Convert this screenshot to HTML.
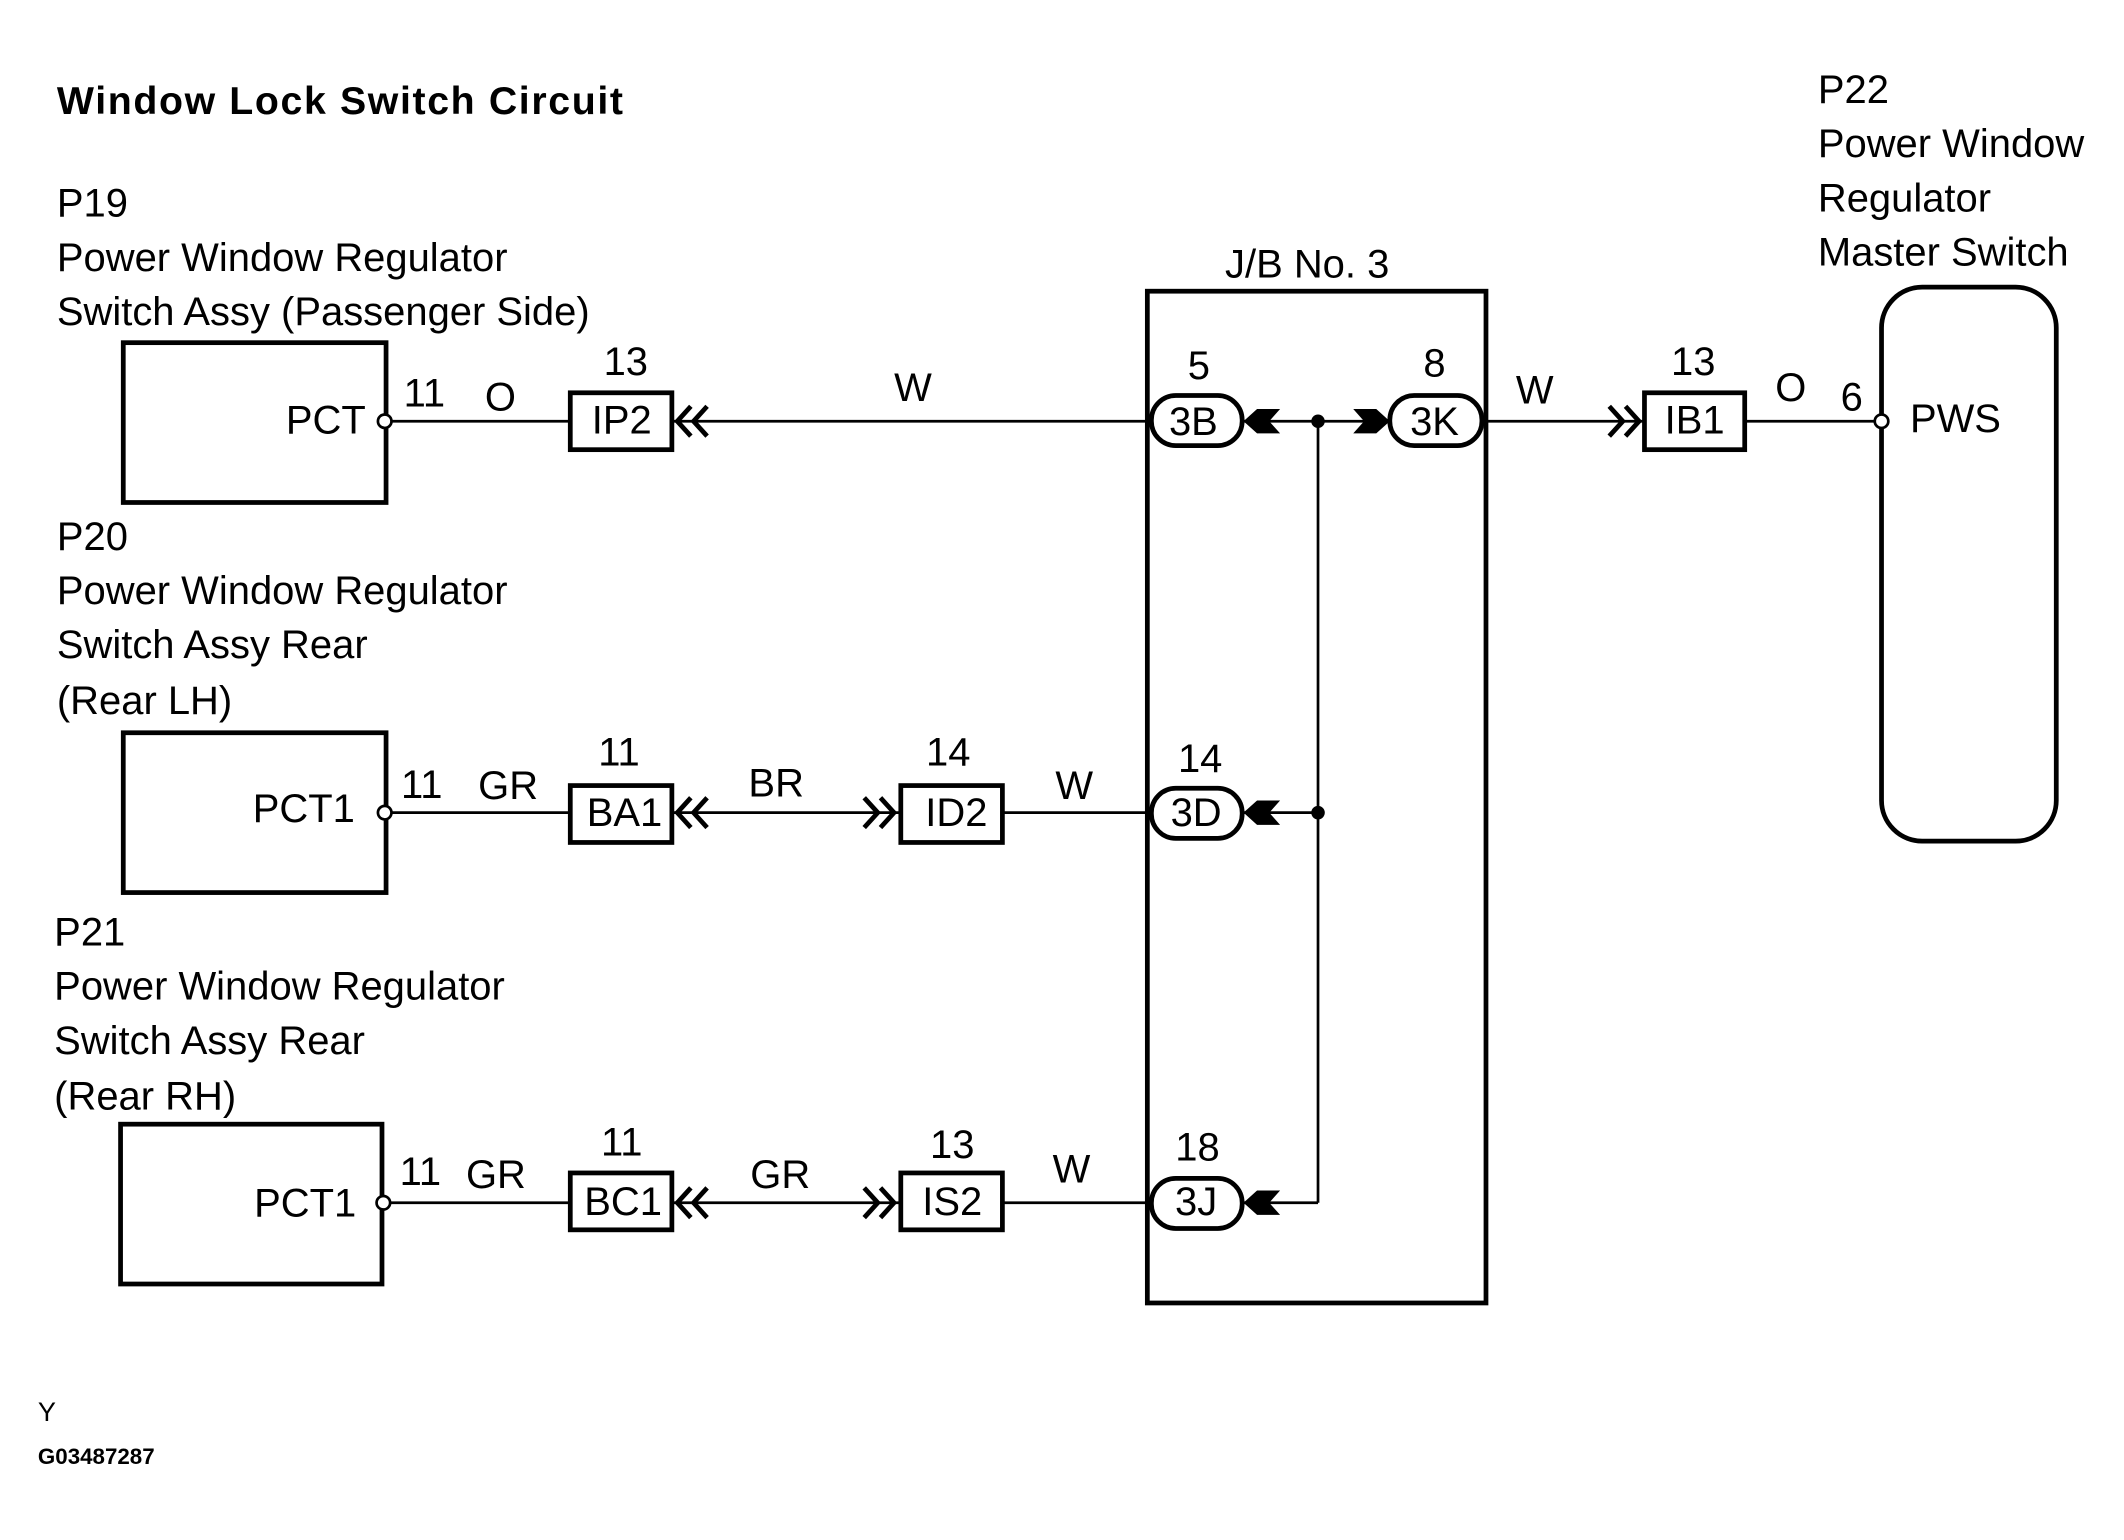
<!DOCTYPE html>
<html><head><meta charset="utf-8"><style>html,body{margin:0;padding:0;background:#fff}svg{display:block}</style></head>
<body>
<svg width="2124" height="1540" viewBox="0 0 1568 1137" preserveAspectRatio="none" xmlns="http://www.w3.org/2000/svg" font-family="Liberation Sans, Arial, sans-serif" font-size="29.5" fill="#000">
<defs>
<g id="dl"><path d="M12,-11 L2,0 L12,11 M24,-11 L14,0 L24,11" fill="none" stroke="#000" stroke-width="3.5"/></g>
<g id="dr"><path d="M-12,-11 L-2,0 L-12,11 M-24,-11 L-14,0 L-24,11" fill="none" stroke="#000" stroke-width="3.5"/></g>
<g id="sl"><path d="M0,0 L10,-9 L27,-9 L19,0 L27,9 L10,9 Z"/></g>
<g id="sr"><path d="M0,0 L-10,-9 L-27,-9 L-19,0 L-27,9 L-10,9 Z"/></g>
</defs>
<text x="42" y="84" font-weight="bold" font-size="29" letter-spacing="1.2">Window Lock Switch Circuit</text>
<g>
<text x="42" y="160">P19</text><text x="42" y="200">Power Window Regulator</text><text x="42" y="240">Switch Assy (Passenger Side)</text>
<text x="42" y="406">P20</text><text x="42" y="446">Power Window Regulator</text><text x="42" y="486">Switch Assy Rear</text><text x="42" y="527">(Rear LH)</text>
<text x="40" y="698">P21</text><text x="40" y="738">Power Window Regulator</text><text x="40" y="778">Switch Assy Rear</text><text x="40" y="819">(Rear RH)</text>
<text x="1342" y="76">P22</text><text x="1342" y="116">Power Window</text><text x="1342" y="156">Regulator</text><text x="1342" y="196">Master Switch</text>
<text x="965" y="205" text-anchor="middle">J/B No. 3</text>
</g>
<g fill="none" stroke="#000" stroke-width="3.5">
<rect x="91" y="253" width="194" height="118"/>
<rect x="91" y="541" width="194" height="118"/>
<rect x="89" y="830" width="193" height="118"/>
<rect x="847" y="215" width="250" height="747"/>
<rect x="1389" y="212" width="129" height="409" rx="30"/>
<rect x="421" y="290" width="75" height="42"/>
<rect x="1214" y="290" width="74" height="42"/>
<rect x="421" y="580" width="75" height="42"/>
<rect x="665" y="580" width="75" height="42"/>
<rect x="421" y="866" width="75" height="42"/>
<rect x="665" y="866" width="75" height="42"/>
<rect x="850" y="292" width="67" height="37" rx="18"/>
<rect x="1026" y="292" width="68" height="37" rx="18"/>
<rect x="850" y="582" width="67" height="37" rx="18"/>
<rect x="850" y="870" width="67" height="37" rx="18"/>
</g>
<g fill="none" stroke="#000" stroke-width="2">
<line x1="289" y1="311" x2="421" y2="311"/><line x1="496" y1="311" x2="850" y2="311"/>
<line x1="917" y1="311" x2="1026" y2="311"/>
<line x1="1094" y1="311" x2="1214" y2="311"/><line x1="1288" y1="311" x2="1384" y2="311"/>
<line x1="289" y1="600" x2="421" y2="600"/><line x1="496" y1="600" x2="665" y2="600"/><line x1="740" y1="600" x2="850" y2="600"/><line x1="917" y1="600" x2="973" y2="600"/>
<line x1="288" y1="888" x2="421" y2="888"/><line x1="496" y1="888" x2="665" y2="888"/><line x1="740" y1="888" x2="850" y2="888"/><line x1="917" y1="888" x2="973" y2="888"/>
<line x1="973" y1="311" x2="973" y2="888"/>
<circle cx="284" cy="311" r="5" fill="#fff"/><circle cx="284" cy="600" r="5" fill="#fff"/><circle cx="283" cy="888" r="5" fill="#fff"/><circle cx="1389" cy="311" r="5" fill="#fff"/>
</g>
<circle cx="973" cy="311" r="5"/><circle cx="973" cy="600" r="5"/>
<use href="#dl" x="498" y="311"/><use href="#dl" x="498" y="600"/><use href="#dl" x="498" y="888"/>
<use href="#dr" x="662" y="600"/><use href="#dr" x="662" y="888"/><use href="#dr" x="1212" y="311"/>
<use href="#sl" x="918" y="311"/><use href="#sl" x="918" y="600"/><use href="#sl" x="918" y="888"/>
<use href="#sr" x="1026" y="311"/>
<g>
<text x="270" y="320" text-anchor="end">PCT</text>
<text x="262" y="607" text-anchor="end">PCT1</text>
<text x="263" y="898" text-anchor="end">PCT1</text>
<text x="1410" y="319">PWS</text>
<text x="298" y="300">11</text><text x="358" y="303">O</text>
<text x="462" y="277" text-anchor="middle">13</text><text x="459" y="320" text-anchor="middle">IP2</text>
<text x="674" y="296" text-anchor="middle">W</text>
<text x="885" y="280" text-anchor="middle">5</text><text x="881" y="321" text-anchor="middle">3B</text>
<text x="1059" y="278" text-anchor="middle">8</text><text x="1059" y="321" text-anchor="middle">3K</text>
<text x="1133" y="298" text-anchor="middle">W</text>
<text x="1250" y="277" text-anchor="middle">13</text><text x="1251" y="320" text-anchor="middle">IB1</text>
<text x="1322" y="296" text-anchor="middle">O</text><text x="1367" y="303" text-anchor="middle">6</text>
<text x="296" y="589">11</text><text x="353" y="590">GR</text>
<text x="457" y="565" text-anchor="middle">11</text><text x="461" y="610" text-anchor="middle">BA1</text>
<text x="573" y="588" text-anchor="middle">BR</text>
<text x="700" y="565" text-anchor="middle">14</text><text x="706" y="610" text-anchor="middle">ID2</text>
<text x="793" y="590" text-anchor="middle">W</text>
<text x="886" y="570" text-anchor="middle">14</text><text x="883" y="610" text-anchor="middle">3D</text>
<text x="295" y="875">11</text><text x="344" y="877">GR</text>
<text x="459" y="853" text-anchor="middle">11</text><text x="460" y="897" text-anchor="middle">BC1</text>
<text x="576" y="877" text-anchor="middle">GR</text>
<text x="703" y="855" text-anchor="middle">13</text><text x="703" y="897" text-anchor="middle">IS2</text>
<text x="791" y="873" text-anchor="middle">W</text>
<text x="884" y="857" text-anchor="middle">18</text><text x="883" y="897" text-anchor="middle">3J</text>
</g>
<text x="28" y="1049" font-size="20">Y</text>
<text x="28" y="1081" font-size="16.5" font-weight="bold">G03487287</text>
</svg>
</body></html>
